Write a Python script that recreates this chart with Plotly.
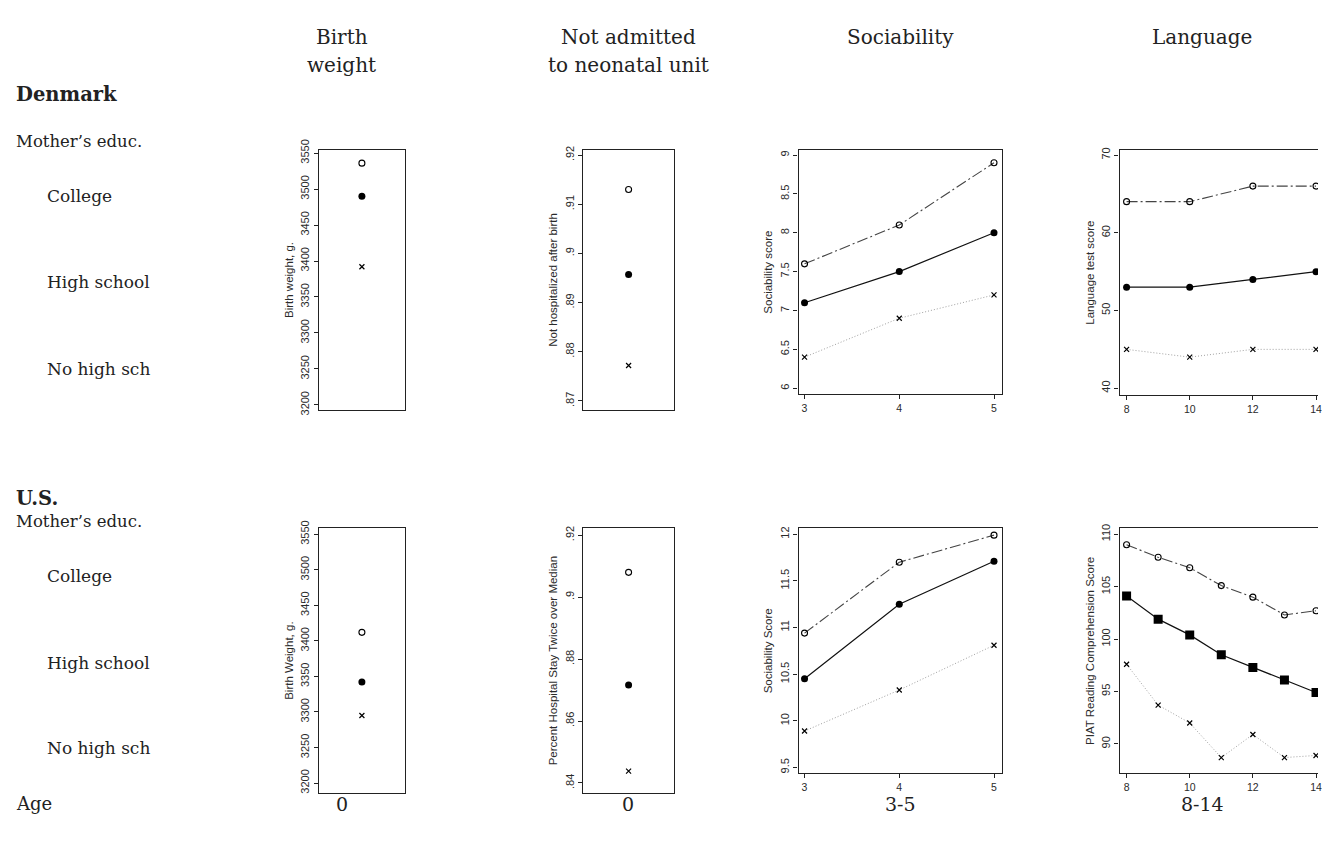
import plotly.graph_objects as go

W, H = 1322, 842

# ---------------- data ----------------
groups = ["College", "High school", "No high sch"]

dk_birth_weight = [3536, 3490, 3392]
dk_not_admitted = [0.913, 0.8957, 0.8772]
dk_soc_age = [3, 4, 5]
dk_soc_college = [7.6, 8.1, 8.9]
dk_soc_high = [7.1, 7.5, 8.0]
dk_soc_nohigh = [6.4, 6.9, 7.2]
dk_lang_age = [8, 10, 12, 14]
dk_lang_college = [64, 64, 66, 66]
dk_lang_high = [53, 53, 54, 55]
dk_lang_nohigh = [45, 44, 45, 45]

us_birth_weight = [3412, 3342, 3295]
us_long_stay = [0.908, 0.8716, 0.8438]
us_soc_age = [3, 4, 5]
us_soc_college = [10.94, 11.70, 11.99]
us_soc_high = [10.45, 11.25, 11.71]
us_soc_nohigh = [9.89, 10.33, 10.81]
us_piat_age = [8, 9, 10, 11, 12, 13, 14]
us_piat_college = [109.0, 107.8, 106.8, 105.1, 104.0, 102.3, 102.7]
us_piat_high = [104.1, 101.9, 100.4, 98.5, 97.3, 96.1, 94.9]
us_piat_nohigh = [97.6, 93.7, 92.0, 88.7, 90.9, 88.7, 88.9]

bw_ticks = [3200, 3250, 3300, 3350, 3400, 3450, 3500, 3550]
dk_na_ticks = [0.87, 0.88, 0.89, 0.90, 0.91, 0.92]
dk_na_labels = [".87", ".88", ".89", ".9", ".91", ".92"]
us_na_ticks = [0.84, 0.86, 0.88, 0.90, 0.92]
us_na_labels = [".84", ".86", ".88", ".9", ".92"]
dk_soc_ticks = [6, 6.5, 7, 7.5, 8, 8.5, 9]
us_soc_ticks = [9.5, 10, 10.5, 11, 11.5, 12]
dk_lang_ticks = [40, 50, 60, 70]
us_piat_ticks = [90, 95, 100, 105, 110]
lang_x_ticks = [8, 10, 12, 14]

col_headers = [("Birth", "weight"), ("Not admitted", "to neonatal unit"), ("Sociability", ""), ("Language", "")]
age_labels = ["0", "0", "3-5", "8-14"]

# ---------------- styles ----------------
SERIF = "DejaVu Serif"
SANS = "Liberation Sans"
FRAME = "#222222"
styles = {
    "college": dict(line=dict(color="#444444", width=1.1, dash="11px,3px,2px,3px"),
                    marker=dict(symbol="circle-open", size=6, color="black", line=dict(width=1.1, color="black"))),
    "high": dict(line=dict(color="#111111", width=1.2),
                 marker=dict(symbol="circle", size=7, color="black")),
    "nohigh": dict(line=dict(color="#a0a0a0", width=1.0, dash="1px,2px"),
                   marker=dict(symbol="x-thin-open", size=5, color="black", line=dict(width=1.2, color="black"))),
}

fig = go.Figure()


def dom_x(a, b):
    return [a / W, min(b / W, 1.0)]


def dom_y(top, bottom):
    return [1 - bottom / H, 1 - top / H]


def add_points(i, values):
    # single-age panels: one point per education group
    for key, v in zip(["nohigh", "high", "college"], values[::-1]):
        st = styles[key]
        fig.add_trace(go.Scatter(x=[0], y=[v], mode="markers", marker=st["marker"],
                                 xaxis=f"x{i}", yaxis=f"y{i}", showlegend=False, hoverinfo="y"))


def add_lines(i, x, college, high, nohigh, high_symbol="circle", high_size=7):
    for key, ys in [("nohigh", nohigh), ("high", high), ("college", college)]:
        st = styles[key]
        mk = dict(st["marker"])
        if key == "high":
            mk = dict(symbol=high_symbol, size=high_size, color="black")
        fig.add_trace(go.Scatter(x=x, y=ys, mode="lines+markers", line=st["line"], marker=mk,
                                 xaxis=f"x{i}", yaxis=f"y{i}", showlegend=False))


add_points(1, dk_birth_weight)
add_points(2, dk_not_admitted)
add_lines(3, dk_soc_age, dk_soc_college, dk_soc_high, dk_soc_nohigh)
add_lines(4, dk_lang_age, dk_lang_college, dk_lang_high, dk_lang_nohigh)
add_points(5, us_birth_weight)
add_points(6, us_long_stay)
add_lines(7, us_soc_age, us_soc_college, us_soc_high, us_soc_nohigh)
add_lines(8, us_piat_age, us_piat_college, us_piat_high, us_piat_nohigh, high_symbol="square", high_size=9)

tickfont = dict(family=SANS, size=11, color="#2a2a2a")
xtickfont = dict(family=SANS, size=10.5, color="#2a2a2a")
titlefont = dict(family=SANS, size=11.5, color="#2a2a2a")

panels = {
    1: dict(xd=(320, 406), yd=(142, 407), xr=[-1, 1], yr=[3193.2, 3554.1], yt=bw_ticks, yl=None,
            title="Birth weight, g.", xt=None, right=True),
    2: dict(xd=(585, 676), yd=(142, 407), xr=[-1, 1], yr=[0.8682, 0.921], yt=dk_na_ticks, yl=dk_na_labels,
            title="Not hospitalized after birth", xt=None, right=True),
    3: dict(xd=(801, 1005), yd=(142, 391), xr=[2.937, 5.084], yr=[5.924, 9.063], yt=dk_soc_ticks, yl=None,
            title="Sociability score", xt=[3, 4, 5], right=True),
    4: dict(xd=(1123, 1322), yd=(142, 392), xr=[7.779, 14.063], yr=[39.12, 70.63], yt=dk_lang_ticks, yl=None,
            title="Language test score", xt=lang_x_ticks, right=False),
    5: dict(xd=(320, 406), yd=(528, 798), xr=[-1, 1], yr=[3186.2, 3558.3], yt=bw_ticks, yl=None,
            title="Birth Weight, g.", xt=None, right=True),
    6: dict(xd=(585, 676), yd=(528, 798), xr=[-1, 1], yr=[0.8368, 0.9222], yt=us_na_ticks, yl=us_na_labels,
            title="Percent Hospital Stay Twice over Median", xt=None, right=True),
    7: dict(xd=(801, 1005), yd=(528, 778), xr=[2.937, 5.084], yr=[9.437, 12.063], yt=us_soc_ticks, yl=None,
            title="Sociability Score", xt=[3, 4, 5], right=True),
    8: dict(xd=(1123, 1322), yd=(528, 778), xr=[7.779, 14.063], yr=[87.2, 110.56], yt=us_piat_ticks, yl=None,
            title="PIAT Reading Comprehension Score", xt=lang_x_ticks, right=False),
}

layout_axes = {}
for i, p in panels.items():
    xa = dict(domain=dom_x(*p["xd"]), range=p["xr"], anchor=f"y{i}", showline=True, mirror=True,
              linecolor=FRAME, linewidth=1.3, showgrid=False, zeroline=False, fixedrange=True)
    if p["xt"] is None:
        xa.update(ticks="", showticklabels=False)
    else:
        xa.update(ticks="outside", ticklen=4, tickcolor=FRAME, tickvals=p["xt"], tickfont=xtickfont,
                  ticklabeloverflow="allow")
    ya = dict(domain=dom_y(*p["yd"]), range=p["yr"], anchor=f"x{i}", showline=True, mirror=p["right"],
              linecolor=FRAME, linewidth=1.3, showgrid=False, zeroline=False, ticks="outside", ticklen=4,
              tickcolor=FRAME, tickvals=p["yt"], tickangle=-90, tickfont=tickfont,
              title=dict(text=p["title"], font=titlefont, standoff=3), fixedrange=True)
    if p["yl"] is not None:
        ya["ticktext"] = p["yl"]
    suffix = "" if i == 1 else str(i)
    layout_axes[f"xaxis{suffix}"] = xa
    layout_axes[f"yaxis{suffix}"] = ya

annotations = []


def txt(text, x, y, size, anchor="left", bold=False):
    annotations.append(dict(text=f"<b>{text}</b>" if bold else text, x=x / W, y=1 - y / H,
                            xref="paper", yref="paper", xanchor=anchor, yanchor="middle",
                            showarrow=False, font=dict(family=SERIF, size=size, color="#222222")))


col_centers = [343, 630, 903, 1206]
for cx, (l1, l2) in zip(col_centers, col_headers):
    txt(l1, cx, 27, 20, anchor="center")
    if l2:
        txt(l2, cx, 55, 20, anchor="center")

for country, ys in [("Denmark", (85, 133, 189, 277, 365)), ("U.S.", (498, 521, 577, 665, 752))]:
    txt(country, 14, ys[0], 19.5, bold=True)
    txt("Mother\u2019s educ.", 14, ys[1], 16.5)
    for g, yy in zip(groups, ys[2:]):
        txt(g, 45, yy, 17)

txt("Age", 14, 809, 18)
for cx, lab in zip(col_centers, age_labels):
    txt(lab, cx, 809, 19, anchor="center")

fig.update_layout(width=W, height=H, margin=dict(l=0, r=0, t=0, b=0), paper_bgcolor="white",
                  plot_bgcolor="white", showlegend=False, annotations=annotations, **layout_axes)

fig.write_html(
    "out.html",
    config={"displayModeBar": False},
    post_script=(
        "document.documentElement.style.margin='0';document.documentElement.style.overflow='hidden';"
        "document.body.style.margin='0';document.body.style.overflow='hidden';"
        "var gd=document.getElementById('{plot_id}');gd.style.overflow='hidden';"
        "var sc=gd.querySelector('.svg-container');if(sc){sc.style.overflow='hidden';}"
    ),
)
